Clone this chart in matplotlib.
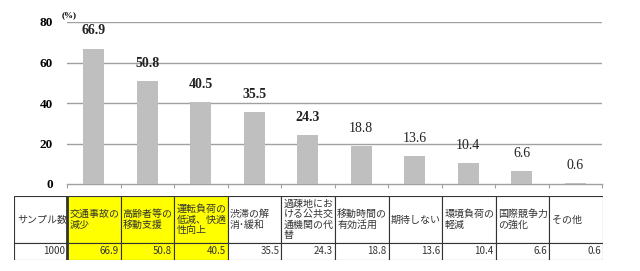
import matplotlib.pyplot as plt
from matplotlib.patches import Rectangle

# Data
categories = ["交通事故の\n減少", "高齢者等の\n移動支援", "運転負荷の\n低減、快適\n性向上",
              "渋滞の解\n消･緩和", "過疎地にお\nける公共交\n通機関の代\n替", "移動時間の\n有効活用",
              "期待しない", "環境負荷の\n軽減", "国際競争力\nの強化", "その他"]
values = [66.9, 50.8, 40.5, 35.5, 24.3, 18.8, 13.6, 10.4, 6.6, 0.6]
value_texts = ["66.9", "50.8", "40.5", "35.5", "24.3", "18.8", "13.6", "10.4", "6.6", "0.6"]
sample_label = "サンプル数"
sample_size = "1000"
highlight = [True, True, True, False, False, False, False, False, False, False]
yticks = [0, 20, 40, 60, 80]

W, H = 640, 271
fig = plt.figure(figsize=(W / 100, H / 100), dpi=100)

# Bar chart area
left, right, top, bottom = 67, 602, 22, 184
ax = fig.add_axes([left / W, 1 - bottom / H, (right - left) / W, (bottom - top) / H])
x = range(len(values))
ax.bar(x, values, width=0.39, color="#bfbfbf", zorder=3)
ax.set_xlim(-0.5, len(values) - 0.5)
ax.set_ylim(0, 80)
ax.set_yticks(yticks)
ax.set_yticklabels([str(v) for v in yticks], fontname="Liberation Serif",
                   fontweight="bold", fontsize=9.5)
for t in yticks[1:]:
    ax.axhline(t, color="#a0a0a0", lw=1.0, zorder=1)
for s in ["left", "right", "top"]:
    ax.spines[s].set_visible(False)
ax.spines["bottom"].set_color("#a0a0a0")
ax.spines["bottom"].set_linewidth(1.0)
ax.tick_params(axis="y", length=0, pad=10)
ax.set_xticks([i + 0.5 for i in range(-1, len(values))])
ax.set_xticklabels([])
ax.tick_params(axis="x", direction="out", length=3, color="#a0a0a0")

# Value labels
for i, (v, s) in enumerate(zip(values, value_texts)):
    ax.annotate(s, (i, v), xytext=(0, 8), textcoords="offset points",
                ha="center", va="bottom", fontname="Liberation Serif",
                fontweight="bold" if i < 5 else "normal", fontsize=10, color="#222222")

fig.text(62 / W, 1 - 15 / H, "(%)", fontname="Liberation Serif", fontsize=6.5,
         va="center", ha="left", fontweight="bold")

# Table area
tleft, tright, ttop, tbot = 14, 603, 196, 260
first_w = (left - tleft) / ((right - left) / len(values))
tax = fig.add_axes([tleft / W, 1 - tbot / H, (tright - tleft) / W, (tbot - ttop) / H])
tax.set_xlim(-0.5 - first_w, len(values) - 0.5)
tax.set_ylim(0, tbot - ttop)
tax.axis("off")
row_h = 17
hdr_h = (tbot - ttop) - row_h
jp = ["Noto Sans CJK JP", "DejaVu Sans"]

# first column
for y0, h in [(row_h, hdr_h), (0, row_h)]:
    tax.add_patch(Rectangle((-0.5 - first_w, y0), first_w, h, fc="white",
                            ec="#333333", lw=0.8))
tax.text(-0.5 - first_w + 0.06, row_h + hdr_h / 2, sample_label, family=jp,
         fontsize=7.2, va="center", ha="left", color="#333333")
tax.text(-0.5 - 0.04, row_h / 2, sample_size, family=jp, fontsize=7,
         va="center", ha="right", color="#333333")

for i, (lab, s, hl) in enumerate(zip(categories, value_texts, highlight)):
    fc = "#ffff00" if hl else "white"
    x0 = i - 0.5
    tax.add_patch(Rectangle((x0, row_h), 1, hdr_h, fc=fc, ec="#333333", lw=0.8))
    tax.add_patch(Rectangle((x0, 0), 1, row_h, fc=fc, ec="#333333", lw=0.8))
    tax.text(x0 + 0.04, row_h + hdr_h / 2, lab, family=jp, fontsize=7.2,
             va="center", ha="left", color="#333333", linespacing=1.05)
    tax.text(x0 + 0.96, row_h / 2, s, family=jp, fontsize=7,
             va="center", ha="right", color="#333333")

# double line after the first column
tax.plot([-0.5, -0.5], [0, tbot - ttop], color="#333333", lw=2.0)

fig.savefig("out.png", dpi=100)
